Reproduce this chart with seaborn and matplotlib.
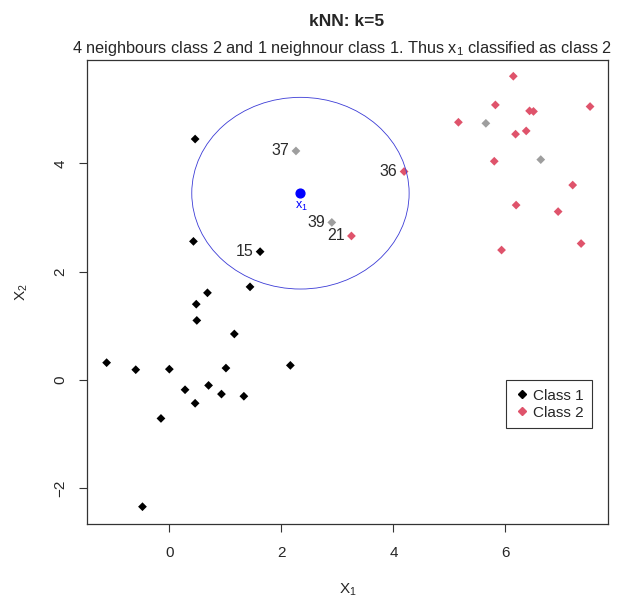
import numpy as np
import pandas as pd
import seaborn as sns
import matplotlib.pyplot as plt
from matplotlib.lines import Line2D
from matplotlib.patches import Ellipse

# points: (x1, x2, group); group "c2g" = class 2 drawn in grey
x1 = [0.46, 0.43, 1.62, 1.44, 0.68, 0.48, 0.49, 1.16, -1.12, -0.60,
      0.00, 1.01, 2.16, 0.28, 0.70, 0.93, 0.46, 1.33, -0.15, -0.48,
      6.14, 5.82, 7.51, 6.43, 6.50, 5.16, 5.65, 6.37, 6.18, 5.80,
      6.63, 7.20, 6.19, 6.94, 7.35, 5.93, 4.19, 3.25, 2.26, 2.90]
x2 = [4.45, 2.56, 2.37, 1.72, 1.61, 1.40, 1.10, 0.85, 0.32, 0.19,
      0.20, 0.22, 0.27, -0.18, -0.10, -0.26, -0.43, -0.30, -0.71, -2.34,
      5.61, 5.08, 5.05, 4.97, 4.96, 4.76, 4.74, 4.60, 4.54, 4.04,
      4.07, 3.60, 3.23, 3.11, 2.52, 2.40, 3.85, 2.66, 4.23, 2.91]
group = ["c1"] * 20 + ["c2"] * 6 + ["c2g"] + ["c2"] * 3 + ["c2g"] + ["c2"] * 7 + ["c2g", "c2g"]

# the five nearest neighbours and their ids
nb_id = ["15", "36", "21", "37", "39"]
nb_idx = [2, 36, 37, 38, 39]

new_x1, new_x2 = 2.34, 3.45
rad_x, rad_y = 1.94, 1.77

df = pd.DataFrame({"x1": x1, "x2": x2, "group": group})

sns.set_style("white")
plt.rcParams["font.family"] = ["Liberation Sans", "DejaVu Sans"]
plt.rcParams["mathtext.fontset"] = "custom"
plt.rcParams["mathtext.rm"] = "Liberation Sans"

fig = plt.figure(figsize=(6.18, 5.98), dpi=100)
ax = fig.add_axes([0.1408, 0.1237, 0.843, 0.776])

pal = {"c1": "black", "c2": "#DF536B", "c2g": "#9E9E9E"}
sns.scatterplot(data=df, x="x1", y="x2", hue="group", palette=pal, marker="D",
                s=20, linewidth=0, legend=False, ax=ax)

ax.scatter([new_x1], [new_x2], color="blue", s=40, zorder=3)
ax.text(new_x1 + 0.02, new_x2 - 0.12, r"x$_1$", color="blue", fontsize=9,
        ha="center", va="top")

ax.add_patch(Ellipse((new_x1, new_x2), 2 * rad_x, 2 * rad_y, fill=False,
                     edgecolor="#3b3bd6", linewidth=0.6))

for lab, i in zip(nb_id, nb_idx):
    ax.annotate(lab, (x1[i], x2[i]), xytext=(-5, 0), textcoords="offset points",
                ha="right", va="center", fontsize=11.5, color="#2a2a2a")

ax.set_xlim(-1.47, 7.83)
ax.set_ylim(-2.66, 5.91)
ax.set_xticks([0, 2, 4, 6])
ax.set_yticks([-2, 0, 2, 4])
ax.tick_params(direction="out", length=6, width=0.8, color="#333333",
               labelsize=11, left=True, bottom=True)
ax.tick_params(axis="x", pad=10)
ax.tick_params(axis="y", pad=8)
for t in ax.get_yticklabels():
    t.set_rotation(90)
    t.set_va("center")
for s in ax.spines.values():
    s.set_color("#333333")
    s.set_linewidth(0.9)

ax.set_xlabel(r"X$_1$", fontsize=11, labelpad=15)
ax.set_ylabel(r"X$_2$", fontsize=11, labelpad=17)

fig.suptitle("kNN: k=5", x=0.56, y=0.977, fontsize=12.5, fontweight="bold")
ax.set_title(r"4 neighbours class 2 and 1 neighnour class 1. Thus x$_1$ classified as class 2",
             fontsize=11.7, pad=5, x=0.49)

handles = [Line2D([], [], marker="D", linestyle="", color="black", markersize=4),
           Line2D([], [], marker="D", linestyle="", color="#DF536B", markersize=4)]
leg = ax.legend(handles, ["Class 1", "Class 2"], loc="upper left",
                bbox_to_anchor=(0.804, 0.31), fancybox=False, framealpha=1,
                edgecolor="#333333", fontsize=11, handletextpad=0.2,
                handlelength=1.0, borderpad=0.55, labelspacing=0.2,
                borderaxespad=0)
leg.get_frame().set_linewidth(0.8)

fig.savefig("out.png", dpi=100)
